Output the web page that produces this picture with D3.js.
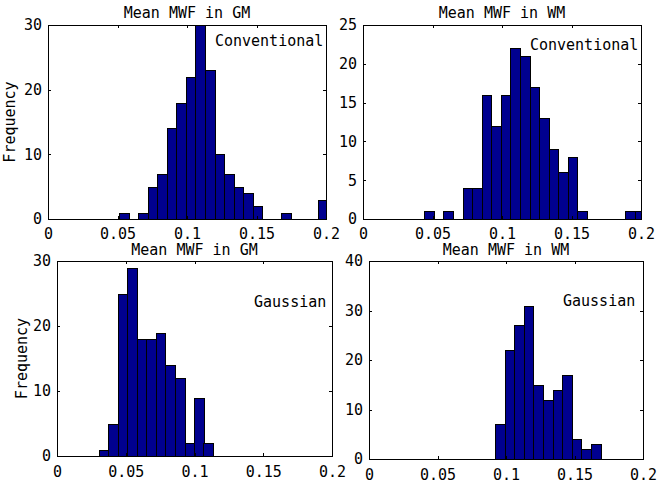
<!DOCTYPE html>
<html>
<head>
<meta charset="utf-8">
<script src="https://cdn.jsdelivr.net/npm/d3@7"></script>
<style>
  html, body { margin: 0; padding: 0; background: #fff; }
  svg { display: block; }
  text { font-family: "DejaVu Sans Mono", "Liberation Mono", monospace; font-size: 15px; fill: #000; }
</style>
</head>
<body>
<svg id="chart" width="661" height="488"></svg>
<script>
// ---------------- DATA ----------------
const titles = ["Mean MWF in GM", "Mean MWF in WM", "Mean MWF in GM", "Mean MWF in WM"];
const methods = ["Conventional", "Conventional", "Gaussian", "Gaussian"];
const yAxisLabel = "Frequency";

const xTickValues = [0, 0.05, 0.1, 0.15, 0.2];
const xTickLabels = ["0", "0.05", "0.1", "0.15", "0.2"];

// Conventional, GM
const gmConvCenters = [0.0545, 0.0614, 0.0682, 0.0751, 0.0820, 0.0889, 0.0958, 0.1026, 0.1095, 0.1164, 0.1233,
                       0.1301, 0.1370, 0.1439, 0.1508, 0.1576, 0.1645, 0.1714, 0.1783, 0.1851, 0.1920, 0.1975];
const gmConvCounts  = [1, 0, 1, 5, 7, 14, 18, 22, 30, 23, 10, 7, 5, 4, 2, 0, 0, 1, 0, 0, 0, 3];

// Conventional, WM
const wmConvCenters = [0.0475, 0.0544, 0.0613, 0.0682, 0.0751, 0.0820, 0.0888, 0.0957, 0.1026, 0.1095, 0.1164, 0.1233,
                       0.1301, 0.1370, 0.1439, 0.1508, 0.1577, 0.1646, 0.1714, 0.1783, 0.1852, 0.1921, 0.1990];
const wmConvCounts  = [1, 0, 1, 0, 4, 4, 16, 12, 16, 22, 21, 17, 13, 9, 6, 8, 1, 0, 0, 0, 0, 1, 1];

// Gaussian, GM
const gmGaussCenters = [0.0340, 0.0409, 0.0478, 0.0547, 0.0616, 0.0685, 0.0754, 0.0823, 0.0893, 0.0962, 0.1031, 0.1100];
const gmGaussCounts  = [1, 5, 25, 29, 18, 18, 19, 14, 12, 2, 9, 2];

// Gaussian, WM
const wmGaussCenters = [0.0955, 0.1025, 0.1095, 0.1165, 0.1235, 0.1305, 0.1375, 0.1445, 0.1515, 0.1585, 0.1655];
const wmGaussCounts  = [7, 22, 27, 31, 15, 12, 14, 17, 4, 2, 3];

const binWidths = [0.00687, 0.00688, 0.00691, 0.00699];

const yTicksList = [[0, 10, 20, 30], [0, 5, 10, 15, 20, 25], [0, 10, 20, 30], [0, 10, 20, 30, 40]];
const yMaxList = [30, 25, 30, 40];

// annotation positions (data coords)
const annX = [0.1201, 0.1201, 0.1433, 0.1416];
const annY = [26.75, 21.8, 22.97, 30.9];

// ---------------- LAYOUT ----------------
const layout = [
  { x0: 48,  x1: 326, y0: 25,  y1: 219, ylabelX: 14.5, showYLabel: true,  titleY: 18,  pad: 9 },
  { x0: 363, x1: 641, y0: 25,  y1: 219, ylabelX: null, showYLabel: false, titleY: 18,  pad: 9 },
  { x0: 57,  x1: 332, y0: 261, y1: 456, ylabelX: 26.5, showYLabel: true,  titleY: 255, pad: 10 },
  { x0: 369, x1: 643, y0: 261, y1: 459, ylabelX: null, showYLabel: false, titleY: 255, pad: 10 }
];

const seriesCenters = [gmConvCenters, wmConvCenters, gmGaussCenters, wmGaussCenters];
const seriesCounts = [gmConvCounts, wmConvCounts, gmGaussCounts, wmGaussCounts];

const svg = d3.select("#chart");
svg.append("rect").attr("width", 661).attr("height", 488).attr("fill", "#fff");

const barFill = "#00008F";
const tickLen = 3;

layout.forEach((L, i) => {
  const x = d3.scaleLinear().domain([0, 0.2]).range([L.x0, L.x1]);
  const y = d3.scaleLinear().domain([0, yMaxList[i]]).range([L.y1, L.y0]);
  const bw = binWidths[i];

  const clipId = "clip" + i;
  svg.append("clipPath").attr("id", clipId)
    .append("rect")
    .attr("x", L.x0).attr("y", L.y0)
    .attr("width", L.x1 - L.x0).attr("height", L.y1 - L.y0);

  const g = svg.append("g");

  // bars
  const data = seriesCenters[i].map((c, k) => ({ c: c, n: seriesCounts[i][k] })).filter(d => d.n > 0);
  g.append("g").attr("clip-path", `url(#${clipId})`)
    .selectAll("rect").data(data).enter().append("rect")
    .attr("x", d => Math.round(x(d.c - bw / 2)) + 0.5)
    .attr("y", d => Math.round(y(d.n)) + 0.5)
    .attr("width", d => Math.round(x(d.c + bw / 2)) - Math.round(x(d.c - bw / 2)))
    .attr("height", d => Math.round(y(0)) - Math.round(y(d.n)))
    .attr("fill", barFill)
    .attr("stroke", "#000")
    .attr("stroke-width", 1);

  // axes
  const ax = (sel) => sel.attr("shape-rendering", "crispEdges");
  const bottom = g.append("g").attr("transform", `translate(0,${L.y1})`)
    .call(d3.axisBottom(x).tickValues(xTickValues).tickFormat((d, k) => xTickLabels[k])
      .tickSizeInner(-tickLen).tickSizeOuter(0).tickPadding(L.pad));
  const top = g.append("g").attr("transform", `translate(0,${L.y0})`)
    .call(d3.axisTop(x).tickValues(xTickValues).tickFormat("")
      .tickSizeInner(-tickLen).tickSizeOuter(0));
  const left = g.append("g").attr("transform", `translate(${L.x0},0)`)
    .call(d3.axisLeft(y).tickValues(yTicksList[i]).tickFormat(d3.format("d"))
      .tickSizeInner(-tickLen).tickSizeOuter(0).tickPadding(6));
  const right = g.append("g").attr("transform", `translate(${L.x1},0)`)
    .call(d3.axisRight(y).tickValues(yTicksList[i]).tickFormat("")
      .tickSizeInner(-tickLen).tickSizeOuter(0));

  [bottom, top, left, right].forEach(a => {
    a.select(".domain").remove();
    a.selectAll("line").attr("stroke", "#000").call(ax);
    a.selectAll("text").attr("font-family", null).attr("font-size", null).attr("fill", "#000");
    a.attr("font-family", null).attr("font-size", null);
  });

  // frame
  g.append("rect")
    .attr("x", L.x0 + 0.5).attr("y", L.y0 + 0.5)
    .attr("width", L.x1 - L.x0).attr("height", L.y1 - L.y0)
    .attr("fill", "none").attr("stroke", "#000").attr("stroke-width", 1)
    .attr("shape-rendering", "crispEdges");

  // title
  g.append("text")
    .attr("x", (L.x0 + L.x1) / 2).attr("y", L.titleY)
    .attr("text-anchor", "middle")
    .text(titles[i]);

  // annotation
  g.append("text")
    .attr("x", x(annX[i])).attr("y", y(annY[i]))
    .text(methods[i]);

  // y label
  if (L.showYLabel) {
    g.append("text")
      .attr("transform", `translate(${L.ylabelX},${(L.y0 + L.y1) / 2}) rotate(-90)`)
      .attr("text-anchor", "middle")
      .text(yAxisLabel);
  }
});
</script>
</body>
</html>
